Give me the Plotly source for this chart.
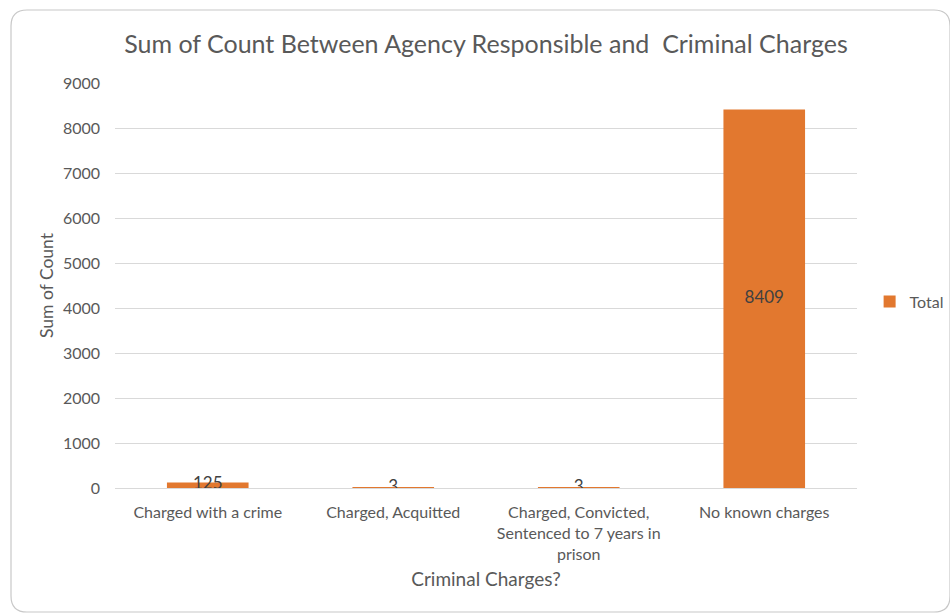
import plotly.graph_objects as go

categories = ["Charged with a crime", "Charged, Acquitted",
              "Charged, Convicted,<br>Sentenced to 7 years in<br>prison", "No known charges"]
values = [125, 3, 3, 8409]
series_name = "Total"

FONT = "Lato, Roboto, Arial"
TXT = "#595959"
ORANGE = "#E2782F"

W, H = 950, 614
L, R, T, B = 115, 93, 83, 126
pw, ph = W - L - R, H - T - B

def px2paper(x, y):
    return (x - L) / pw, (H - B - y) / ph

fig = go.Figure()
fig.add_trace(go.Bar(x=categories, y=values, name=series_name,
                     marker=dict(color=ORANGE, line=dict(width=0))))
fig.add_trace(go.Scatter(x=categories, y=[v / 2 for v in values], mode="text",
                         text=[str(v) for v in values], showlegend=False,
                         textfont=dict(family=FONT, size=17, color="#404040"),
                         hoverinfo="skip"))

# rounded card border
x0, y0, x1, y1, r = 11, 10, 950, 612, 16
def P(x, y):
    a, b = px2paper(x, y)
    return f"{a:.5f},{b:.5f}"
path = (f"M {P(x0, y0 + r)} Q {P(x0, y0)} {P(x0 + r, y0)} L {P(x1 - r, y0)} "
        f"Q {P(x1, y0)} {P(x1, y0 + r)} L {P(x1, y1 - r)} Q {P(x1, y1)} {P(x1 - r, y1)} "
        f"L {P(x0 + r, y1)} Q {P(x0, y1)} {P(x0, y1 - r)} Z")
fig.add_shape(type="path", path=path, xref="paper", yref="paper",
              line=dict(color="#C8C8C8", width=1.2), layer="below")

fig.update_layout(
    width=W, height=H,
    margin=dict(l=L, r=R, t=T, b=B, autoexpand=False),
    paper_bgcolor="white", plot_bgcolor="white",
    font=dict(family=FONT, color=TXT, size=16),
    title=dict(text="Sum of Count Between Agency Responsible and  Criminal Charges",
               x=(L + pw / 2) / W, xanchor="center", y=1 - 44 / H, yanchor="middle",
               font=dict(size=25, color=TXT, family=FONT)),
    bargap=0.56,
    showlegend=True,
    legend=dict(x=1.017, y=0.46, xanchor="left", yanchor="middle", itemwidth=30,
                font=dict(size=16, color=TXT), bgcolor="rgba(0,0,0,0)"),
    xaxis=dict(title=dict(text="Criminal Charges?", font=dict(size=19, color=TXT), standoff=11),
               showgrid=False, showline=False, ticks="", tickfont=dict(size=16, color=TXT),
               ticklabelstandoff=13),
    yaxis=dict(title=dict(text="Sum of Count", font=dict(size=17.5, color=TXT), standoff=4),
               range=[0, 9000], dtick=1000, showgrid=True, gridcolor="#D9D9D9",
               gridwidth=1, zeroline=True, zerolinecolor="#D9D9D9", zerolinewidth=1,
               showline=False, ticks="", tickfont=dict(size=16, color=TXT), ticklabelstandoff=14),
)
fig.write_html("out.html")
